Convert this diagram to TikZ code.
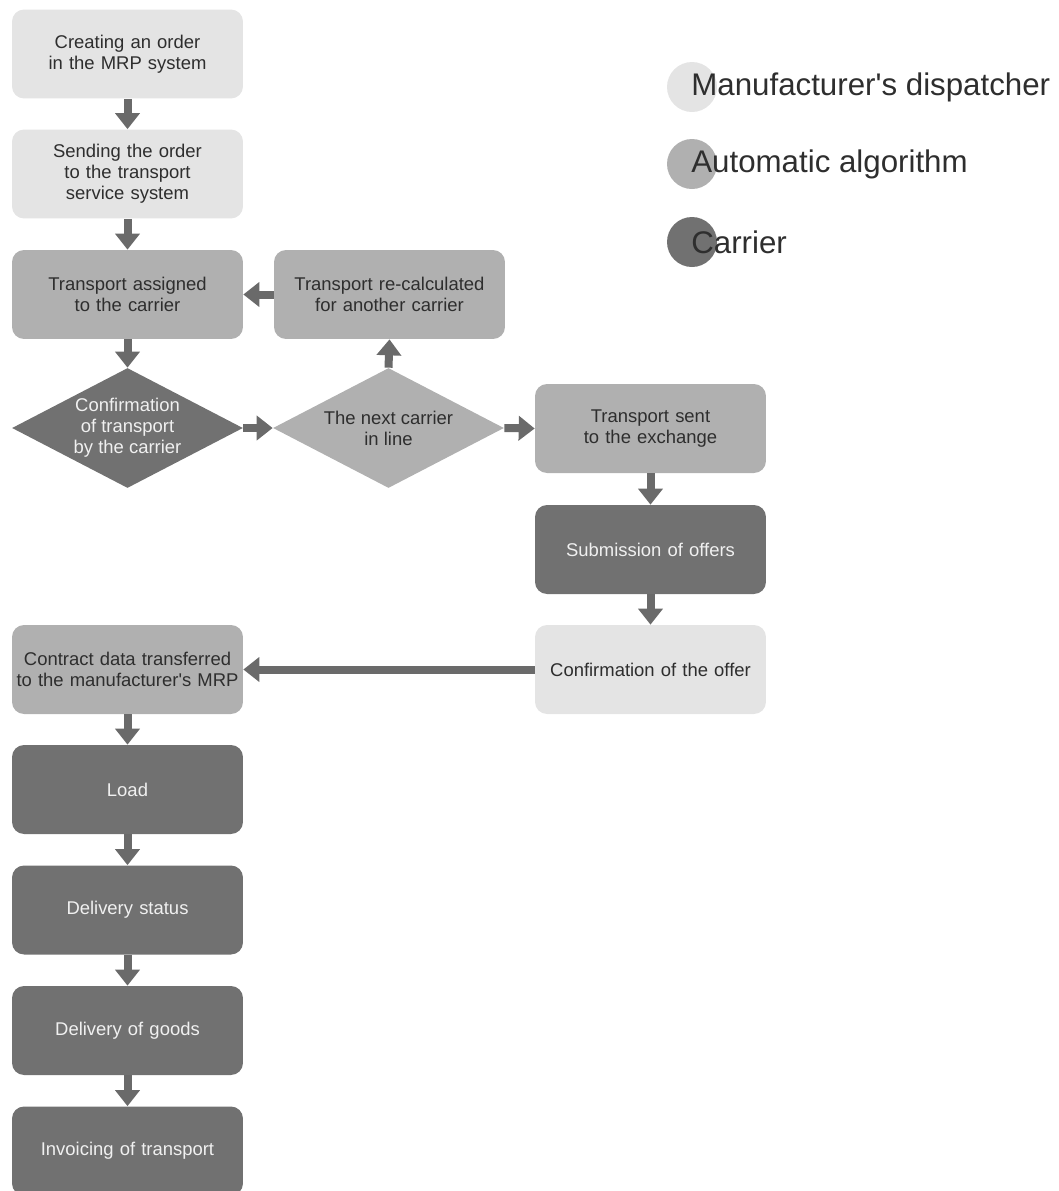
\documentclass[tikz,border=0pt]{standalone}
\usepackage{fontspec}
\setmainfont{Liberation Sans}
\usetikzlibrary{arrows.meta,shapes.geometric}
\definecolor{lt}{HTML}{E4E4E4}
\definecolor{md}{HTML}{B0B0B0}
\definecolor{dk}{HTML}{717171}
\definecolor{arr}{HTML}{6A6A6A}
\definecolor{txtd}{HTML}{2E2E2E}
\definecolor{txtl}{HTML}{F0F0F0}
\newcommand{\apo}{\textquotesingle}
\hyphenpenalty=10000
\exhyphenpenalty=10000
\begin{document}
\begin{tikzpicture}[x=0.02cm,y=-0.02cm,
  box/.style={rounded corners=0.24cm, minimum width=4.62cm, minimum height=1.78cm,
    inner sep=0pt, text width=4.6cm, align=center,
    font=\fontsize{10.5}{11.9}\selectfont},
  boxlt/.style={box, fill=lt, text=txtd},
  boxmd/.style={box, fill=md, text=txtd},
  boxdk/.style={box, fill=dk, text=txtl},
  diam/.style={diamond, inner sep=0pt, minimum width=4.62cm, minimum height=2.4cm},
  dtext/.style={align=center, inner sep=0pt, font=\fontsize{10.5}{11.9}\selectfont},
  flow/.style={draw=arr, line width=0.16cm, -{Triangle[length=0.32cm,width=0.48cm]}},
  legtext/.style={anchor=west, inner sep=0pt, text=txtd, font=\fontsize{17.8}{20}\selectfont}
]
\useasboundingbox (0,0) rectangle (1059,1191);

% left column
\node[boxlt] (b1) at (127.5,54) {Creating an order\\in the MRP system};
\node[boxlt] (b2) at (127.5,174) {Sending the order\\to the transport\\service system};
\node[boxmd] (b3) at (127.5,294.5) {Transport assigned\\to the carrier};
\node[boxmd] (b4) at (389.5,294.5) {Transport re-calculated\\for another carrier};

\node[diam, fill=dk] (d1) at (127.5,428) {};
\node[dtext, text=txtl] (d1t) at (d1) {Confirmation\\of transport\\by the carrier};
\node[diam, fill=md] (d2) at (388.5,428) {};
\node[dtext, text=txtd] (d2t) at (d2) {The next carrier\\in line};

\node[boxmd] (b5) at (650.5,428.5) {Transport sent\\to the exchange};
\node[boxdk] (b6) at (650.5,549.5) {Submission of offers};
\node[boxlt] (b7) at (650.5,669.5) {Confirmation of the offer};

\node[boxmd] (b8) at (127.5,669.5) {Contract data transferred\\to the manufacturer\apo s MRP};
\node[boxdk] (b9) at (127.5,789.5) {Load};
\node[boxdk] (b10) at (127.5,910) {Delivery status};
\node[boxdk] (b11) at (127.5,1030.5) {Delivery of goods};
\node[boxdk] (b12) at (127.5,1151) {Invoicing of transport};

% connectors
\draw[flow] (b1.south) -- (b2.north);
\draw[flow] (b2.south) -- (b3.north);
\draw[flow] (b3.south) -- (d1.north);
\draw[flow] (b4.west) -- (b3.east);
\draw[flow] (d1.east) -- (d2.west);
\draw[flow] (d2.north) -- (b4.south);
\draw[flow] (d2.east) -- (b5.west);
\draw[flow] (b5.south) -- (b6.north);
\draw[flow] (b6.south) -- (b7.north);
\draw[flow] (b7.west) -- (b8.east);
\draw[flow] (b8.south) -- (b9.north);
\draw[flow] (b9.south) -- (b10.north);
\draw[flow] (b10.south) -- (b11.north);
\draw[flow] (b11.south) -- (b12.north);

% legend
\fill[lt] (692,87) circle (25);
\node[legtext] (l1) at (691,87) {Manufacturer\apo s dispatcher};
\fill[md] (692,164) circle (25);
\node[legtext] (l2) at (691,164) {Automatic algorithm};
\fill[dk] (692,242) circle (25);
\node[legtext] (l3) at (691,242) {Carrier};
\end{tikzpicture}
\end{document}
